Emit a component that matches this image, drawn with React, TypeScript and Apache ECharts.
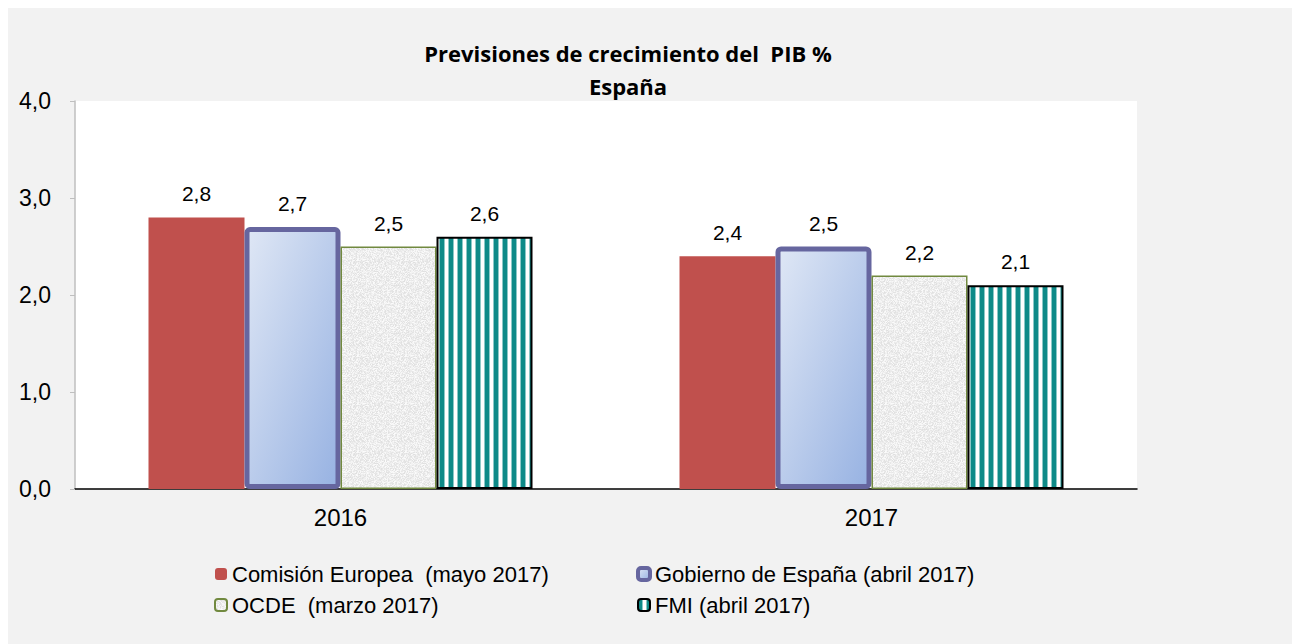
import React, { useEffect, useRef } from "react";
import * as echarts from "echarts";

const categories = ["2016", "2017"];
const seriesNames = [
  "Comisión Europea  (mayo 2017)",
  "Gobierno de España (abril 2017)",
  "OCDE  (marzo 2017)",
  "FMI (abril 2017)",
];
const comision = [2.8, 2.4];
const gobierno = [2.7, 2.5];
const ocde = [2.5, 2.2];
const fmi = [2.6, 2.1];
const yMin = 0;
const yMax = 4;
const yStep = 1;

const fmt = (v: number) => v.toFixed(1).replace(".", ",");

function makeStripes(): string {
  const c = document.createElement("canvas");
  c.width = 9;
  c.height = 4;
  const g = c.getContext("2d")!;
  const cols = ["#0e8a88", "#0e8a88", "#0e8a88", "#0e8a88", "#8cc8c7", "#ffffff", "#ffffff", "#ffffff", "#8cc8c7"];
  cols.forEach((col, i) => {
    g.fillStyle = col;
    g.fillRect(i, 0, 1, 4);
  });
  return c.toDataURL();
}

function makeNoise(): string {
  const n = 48;
  const c = document.createElement("canvas");
  c.width = n;
  c.height = n;
  const g = c.getContext("2d")!;
  const img = g.createImageData(n, n);
  for (let y = 0; y < n; y++) {
    for (let x = 0; x < n; x++) {
      let h = (x * 374761393 + y * 668265263) | 0;
      h = Math.imul(h ^ (h >>> 13), 1274126177);
      h = (h ^ (h >>> 16)) >>> 0;
      const v = 224 + (h % 28);
      const i = (y * n + x) * 4;
      img.data[i] = v;
      img.data[i + 1] = v;
      img.data[i + 2] = v;
      img.data[i + 3] = 255;
    }
  }
  g.putImageData(img, 0, 0);
  return c.toDataURL();
}

export default function App() {
  const ref = useRef<HTMLDivElement>(null);
  useEffect(() => {
    if (!ref.current) return;
    const chart = echarts.init(ref.current, null, { renderer: "svg" });
    const stripes = { image: makeStripes(), repeat: "repeat", imageWidth: 9, imageHeight: 4 } as any;
    const noise = { image: makeNoise(), repeat: "repeat", imageWidth: 48, imageHeight: 48 } as any;
    const labelCfg = {
      show: true,
      position: "top",
      distance: 13,
      color: "#000",
      fontFamily: "Liberation Sans",
      fontSize: 21,
      formatter: (p: any) => fmt(p.value),
    };
    const blueGrad = new echarts.graphic.LinearGradient(0, 0, 1, 1, [
      { offset: 0, color: "#dfe7f5" },
      { offset: 1, color: "#97b2e2" },
    ]);
    const legendText = { fontFamily: "Liberation Sans", fontSize: 22, color: "#000", padding: [0, 0, 0, 0] };
    chart.setOption({
      animation: false,
      backgroundColor: "#f2f2f2",
      graphic: [
        {
          type: "text",
          x: 620,
          y: 61,
          style: {
            text: "Previsiones de crecimiento del  PIB %\nEspaña",
            textAlign: "center",
            textVerticalAlign: "middle",
            font: "bold 22px 'Open Sans'",
            lineHeight: 33,
            fill: "#000",
          },
        },
      ],
      grid: { left: 67, top: 93, right: 155, bottom: 155, backgroundColor: "#ffffff", show: true, borderWidth: 0 },
      legend: [
        {
          data: [seriesNames[0], seriesNames[2]],
          orient: "vertical",
          left: 206,
          top: 555,
          padding: 0,
          itemWidth: 12,
          itemHeight: 12,
          itemGap: 9,
          textStyle: legendText,
        },
        {
          data: [
            { name: seriesNames[1], itemStyle: { borderWidth: 4 } },
            seriesNames[3],
          ],
          orient: "vertical",
          left: 628,
          top: 555,
          padding: 0,
          itemWidth: 12,
          itemHeight: 12,
          itemGap: 9,
          textStyle: legendText,
        },
      ],
      xAxis: {
        type: "category",
        data: categories,
        axisLine: { lineStyle: { color: "#000", width: 1.5 } },
        axisTick: { length: 8, lineStyle: { color: "#000", width: 1.5 } },
        axisLabel: { color: "#000", fontFamily: "Liberation Sans", fontSize: 24, margin: 16 },
      },
      yAxis: {
        type: "value",
        min: yMin,
        max: yMax,
        interval: yStep,
        axisLine: { show: true, lineStyle: { color: "#bfbfbf", width: 1.5 } },
        axisTick: { show: true, length: 5, lineStyle: { color: "#bfbfbf" } },
        splitLine: { show: false },
        axisLabel: { color: "#000", fontFamily: "Liberation Sans", fontSize: 23, margin: 24, formatter: (v: number) => fmt(v) },
      },
      series: [
        {
          name: seriesNames[0],
          type: "bar",
          data: comision,
          barWidth: 96,
          barGap: "0%",
          itemStyle: { color: "#c0504d" },
          label: labelCfg,
        },
        {
          name: seriesNames[1],
          type: "bar",
          data: gobierno,
          barWidth: 96,
          barGap: "0%",
          itemStyle: { color: blueGrad, borderColor: "#66669f", borderWidth: 5, borderRadius: 3 },
          label: labelCfg,
        },
        {
          name: seriesNames[2],
          type: "bar",
          data: ocde,
          barWidth: 96,
          barGap: "0%",
          itemStyle: { color: noise, borderColor: "#71893f", borderWidth: 1.5 },
          label: labelCfg,
        },
        {
          name: seriesNames[3],
          type: "bar",
          data: fmi,
          barWidth: 96,
          barGap: "0%",
          itemStyle: { color: stripes, borderColor: "#000", borderWidth: 2 },
          label: labelCfg,
        },
      ],
    });
    return () => chart.dispose();
  }, []);
  return (
    <div
      ref={ref}
      style={{ position: "fixed", left: 8, top: 8, width: 1284, height: 636 }}
    />
  );
}
